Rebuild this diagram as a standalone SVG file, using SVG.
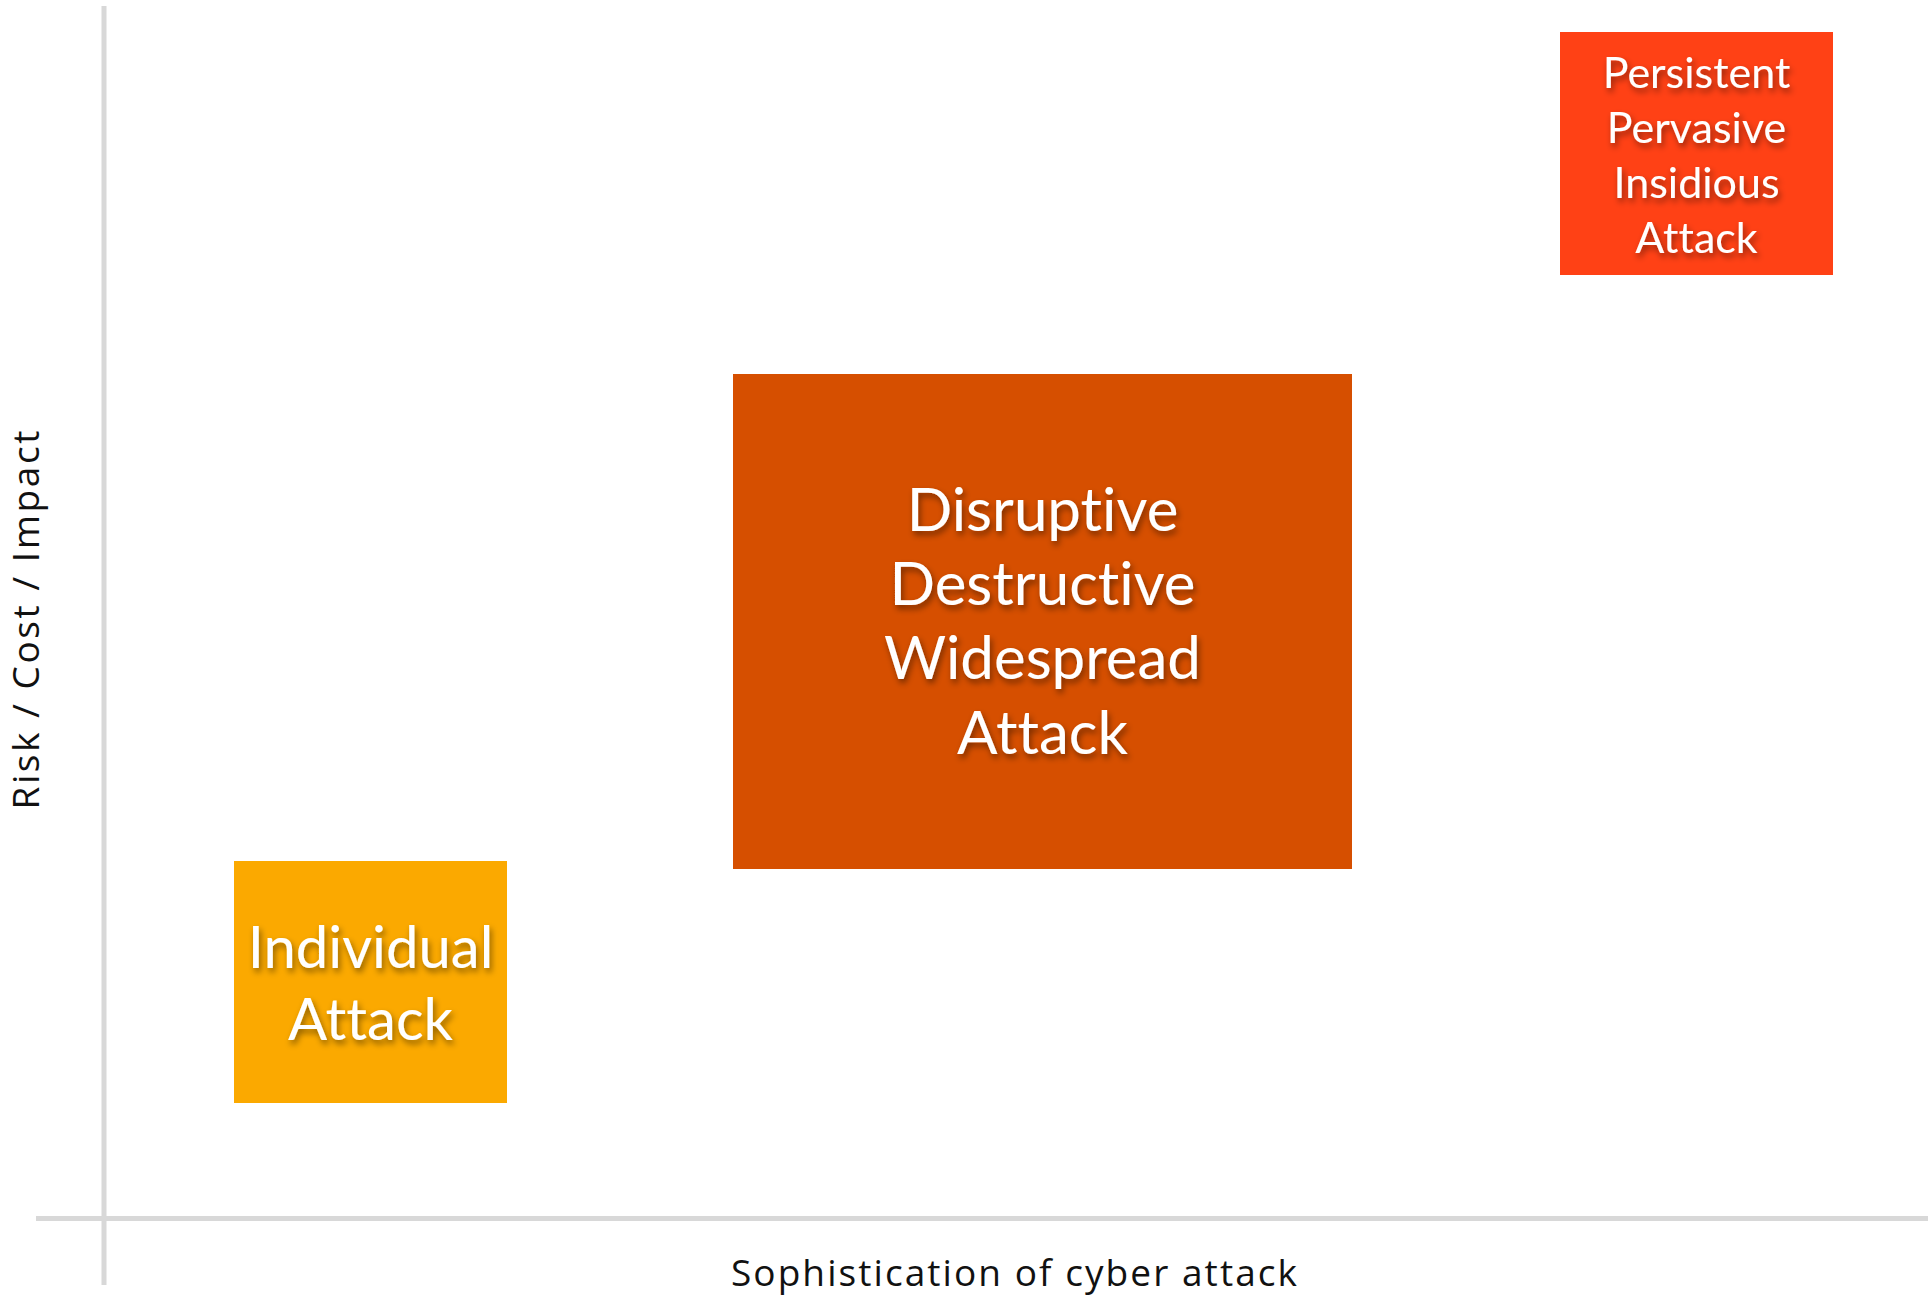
<svg xmlns="http://www.w3.org/2000/svg" width="1931" height="1298" viewBox="0 0 1931 1298">
  <defs>
    <filter id="shadow" x="-20%" y="-20%" width="140%" height="160%">
      <feDropShadow dx="2" dy="4" stdDeviation="3" flood-color="#000" flood-opacity="0.45"/>
    </filter>
  </defs>
  <style>
    .axis { stroke: #d8d8d8; stroke-width: 5; fill: none; }
    .axislabel { font-family: "Open Sans", "Liberation Sans", sans-serif; font-size: 37px; fill: #111; text-anchor: middle; }
    .boxtext { font-family: Lato, "Open Sans", sans-serif; fill: #ffffff; text-anchor: middle; filter: url(#shadow); font-variant-ligatures: none; }
  </style>
  <rect width="1931" height="1298" fill="#ffffff"/>
  <g id="connectors">
    <line class="axis" x1="104" y1="6" x2="104" y2="1285"/>
    <line class="axis" x1="36" y1="1218.5" x2="1928" y2="1218.5"/>
  </g>
  <g id="axis-x-label">
    <text class="axislabel" x="1014" y="1286" textLength="566">Sophistication of cyber attack</text>
  </g>
  <g id="axis-y-label">
    <text class="axislabel" transform="translate(39,620) rotate(-90)" x="0" y="0" textLength="379">Risk / Cost / Impact</text>
  </g>
  <g id="node-individual">
    <rect x="234" y="861" width="273" height="242" fill="#fba900"/>
    <text class="boxtext" font-size="58"><tspan x="370.5" y="968">Individual</tspan><tspan x="370.5" y="1040">Attack</tspan></text>
  </g>
  <g id="node-disruptive">
    <rect x="733" y="374" width="619" height="495" fill="#d64f00"/>
    <text class="boxtext" font-size="60"><tspan x="1042.5" y="531">Disruptive</tspan><tspan x="1042.5" y="605">Destructive</tspan><tspan x="1042.5" y="679">Widespread</tspan><tspan x="1042.5" y="754">Attack</tspan></text>
  </g>
  <g id="node-persistent">
    <rect x="1560" y="32" width="273" height="243" fill="#ff4115"/>
    <text class="boxtext" font-size="43"><tspan x="1696.5" y="88">Persistent</tspan><tspan x="1696.5" y="143">Pervasive</tspan><tspan x="1696.5" y="198">Insidious</tspan><tspan x="1696.5" y="253">Attack</tspan></text>
  </g>
</svg>
